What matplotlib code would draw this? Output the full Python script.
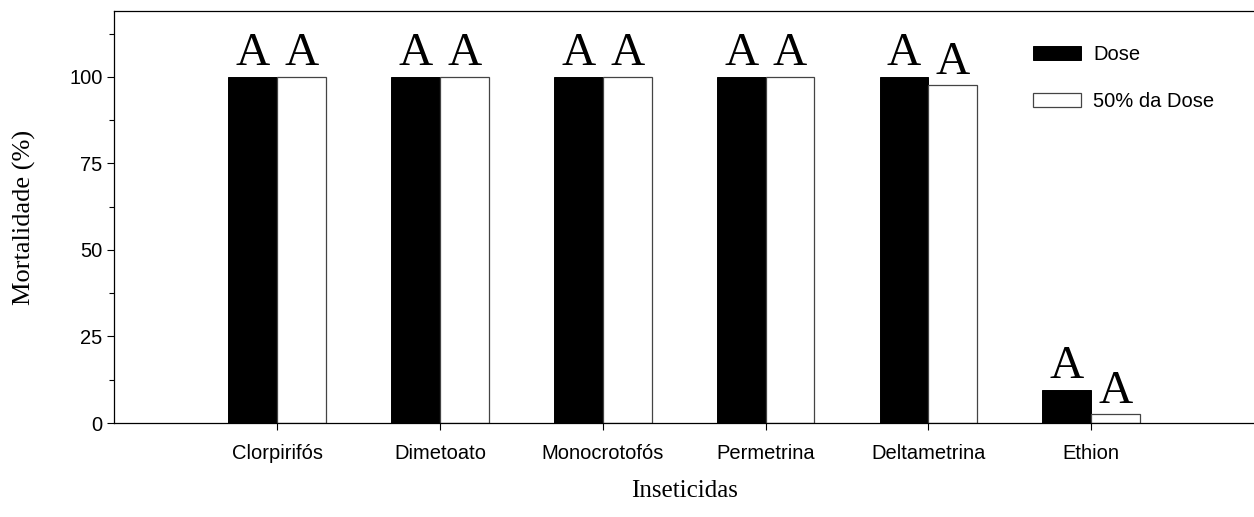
import numpy as np
import matplotlib
matplotlib.use('Agg')
import matplotlib.pyplot as plt
from matplotlib.ticker import MultipleLocator

# data
inseticidas = ['Clorpirifós', 'Dimetoato', 'Monocrotofós', 'Permetrina', 'Deltametrina', 'Ethion']
dose = [100, 100, 100, 100, 100, 9.5]
meia_dose = [100, 100, 100, 100, 97.5, 2.5]
letras_dose = ['A', 'A', 'A', 'A', 'A', 'A']
letras_meia = ['A', 'A', 'A', 'A', 'A', 'A']

plt.rcParams['font.family'] = ['Liberation Sans', 'DejaVu Sans']

fig = plt.figure(figsize=(12.54, 5.17), dpi=100)
ax = fig.add_axes([0.0912, 0.1818, 0.9088, 0.7969])

x = np.arange(1, len(inseticidas) + 1)
w = 0.3
ax.bar(x - w / 2, dose, w, color='black', edgecolor='black', linewidth=0.7, label='Dose')
ax.bar(x + w / 2, meia_dose, w, color='white', edgecolor='#444444', linewidth=0.9, label='50% da Dose')

# letras de significancia acima das barras
for xi, v, l in zip(x - w / 2, dose, letras_dose):
    ax.text(xi, v + 3.4, l, ha='center', va='baseline', fontsize=34, family='Liberation Serif')
for xi, v, l in zip(x + w / 2, meia_dose, letras_meia):
    ax.text(xi, v + 3.4, l, ha='center', va='baseline', fontsize=34, family='Liberation Serif')

ax.set_xlim(0, 7)
ax.set_ylim(0, 119)
ax.set_xticks(x)
ax.set_xticklabels(inseticidas, fontsize=14.5)
ax.set_yticks([0, 25, 50, 75, 100])
ax.yaxis.set_minor_locator(MultipleLocator(12.5))
ax.tick_params(axis='y', which='major', labelsize=14.5, length=5, width=0.8, direction='out')
ax.tick_params(axis='y', which='minor', length=3.5, width=0.8, direction='out')
ax.tick_params(axis='x', length=5, width=0.8, direction='out', pad=10)
ax.spines['right'].set_visible(False)
for s in ['left', 'top', 'bottom']:
    ax.spines[s].set_linewidth(0.9)

ax.set_ylabel('Mortalidade (%)', fontsize=19, family='Liberation Serif', labelpad=24)
ax.set_xlabel('Inseticidas', fontsize=18, family='Liberation Serif', labelpad=12)

ax.legend(frameon=False, fontsize=14.5, loc='upper left',
          bbox_to_anchor=(0.8238, 0.913), bbox_transform=fig.transFigure,
          borderaxespad=0, borderpad=0, handlelength=2.4, handleheight=0.7,
          handletextpad=0.6, labelspacing=1.4)

fig.savefig('out.png', dpi=100)
